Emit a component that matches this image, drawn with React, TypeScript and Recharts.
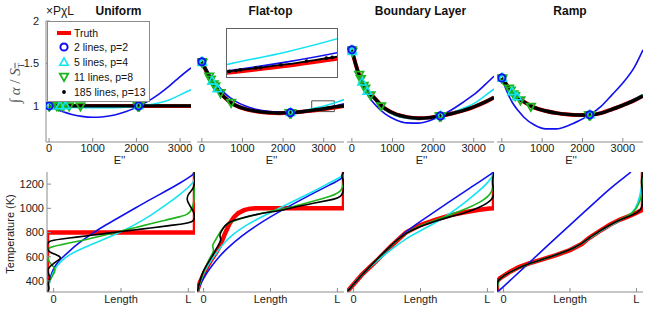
import React from "react";
import { ComposedChart, Line, Scatter, XAxis, YAxis, ReferenceArea } from "recharts";

const FONT = "'Liberation Sans', Arial, Helvetica, sans-serif";
const BOX = "#8c8c8c";
const RED = "#ff0000";
const BLUE = "#1010f0";
const CYAN = "#14e4f2";
const GREEN = "#1cb41c";
const BLACK = "#000000";

// ---------- top row: normalised line strength vs E''
// the first panel has a slightly narrower E'' range than the other three
const E_DOMAIN_A = [-70, 3250];
const E_DOMAIN_B = [-120, 3500];
const E_GRID_A = [0, 100, 250, 400, 500, 750, 1000, 1250, 1500, 1750, 2000, 2250, 2500, 2750, 3000, 3250];
const E_GRID_B = [0, 100, 260, 430, 540, 810, 1090, 1360, 1640, 1910, 2180, 2460, 2730, 3010, 3280, 3500];

const UNIFORM_TRUTH = [1, 1, 1, 1, 1, 1, 1, 1, 1, 1, 1, 1, 1, 1, 1, 1];
const UNIFORM_2 = [1.0, 0.975, 0.944, 0.918, 0.903, 0.877, 0.867, 0.873, 0.894, 0.931, 0.983, 1.05, 1.133, 1.232, 1.346, 1.448];
const UNIFORM_5 = [1.0, 0.995, 0.99, 0.986, 0.984, 0.98, 0.978, 0.978, 0.98, 0.985, 0.995, 1.01, 1.035, 1.07, 1.13, 1.19];
const UNIFORM_11 = [1.0, 1.0, 1.0, 0.999, 0.999, 0.998, 0.998, 0.998, 0.998, 0.999, 1.0, 1.0, 1.001, 1.002, 1.004, 1.006];
const UNIFORM_185 = [1, 1, 1, 1, 1, 1, 1, 1, 1, 1, 1, 1, 1, 1, 1, 1];

const FLAT_TRUTH = [1.52, 1.42, 1.28, 1.17, 1.11, 1.01, 0.96, 0.935, 0.92, 0.915, 0.92, 0.93, 0.945, 0.962, 0.982, 0.998];
const FLAT_2 = [1.52, 1.44, 1.32, 1.22, 1.16, 1.06, 0.995, 0.958, 0.937, 0.927, 0.921, 0.934, 0.951, 0.973, 0.999, 1.025];
const FLAT_5 = [1.53, 1.43, 1.29, 1.18, 1.12, 1.02, 0.965, 0.937, 0.921, 0.916, 0.921, 0.938, 0.969, 1.0, 1.037, 1.075];
const FLAT_11 = [1.52, 1.42, 1.28, 1.17, 1.11, 1.01, 0.962, 0.937, 0.922, 0.917, 0.921, 0.932, 0.948, 0.966, 0.987, 1.004];
const FLAT_185 = [1.52, 1.42, 1.28, 1.17, 1.11, 1.01, 0.961, 0.936, 0.921, 0.916, 0.921, 0.932, 0.949, 0.967, 0.988, 1.003];

const BL_TRUTH = [1.66, 1.48, 1.27, 1.15, 1.1, 0.97, 0.9, 0.868, 0.855, 0.862, 0.882, 0.91, 0.945, 0.99, 1.045, 1.1];
const BL_2 = [1.66, 1.47, 1.24, 1.1, 1.03, 0.91, 0.835, 0.8, 0.797, 0.825, 0.882, 0.955, 1.04, 1.135, 1.25, 1.35];
const BL_5 = [1.66, 1.48, 1.26, 1.14, 1.085, 0.955, 0.885, 0.855, 0.845, 0.855, 0.881, 0.917, 0.97, 1.03, 1.12, 1.2];
const BL_11 = [1.66, 1.48, 1.27, 1.15, 1.1, 0.968, 0.898, 0.866, 0.854, 0.861, 0.882, 0.911, 0.948, 0.994, 1.05, 1.105];
const BL_185 = [1.66, 1.48, 1.27, 1.15, 1.1, 0.97, 0.9, 0.868, 0.855, 0.862, 0.882, 0.91, 0.945, 0.99, 1.045, 1.1];

const RAMP_TRUTH = [1.33, 1.26, 1.16, 1.085, 1.05, 0.98, 0.94, 0.915, 0.9, 0.893, 0.895, 0.915, 0.96, 1.01, 1.065, 1.12];
const RAMP_2 = [1.33, 1.2, 1.04, 0.93, 0.87, 0.775, 0.73, 0.73, 0.767, 0.825, 0.895, 0.995, 1.13, 1.275, 1.45, 1.66];
const RAMP_5 = [1.33, 1.26, 1.16, 1.085, 1.05, 0.98, 0.94, 0.915, 0.9, 0.893, 0.895, 0.917, 0.963, 1.016, 1.075, 1.135];
const RAMP_11 = [1.33, 1.26, 1.16, 1.085, 1.05, 0.98, 0.94, 0.915, 0.9, 0.893, 0.895, 0.915, 0.96, 1.011, 1.067, 1.123];
const RAMP_185 = [1.33, 1.26, 1.16, 1.085, 1.05, 0.98, 0.94, 0.915, 0.9, 0.893, 0.895, 0.915, 0.96, 1.01, 1.065, 1.12];

// line positions (markers), first panel / other panels
const M2_E_A = [0, 2050];
const M5_E_A = [0, 10, 250, 380, 2050];
const M11_E_A = [0, 10, 180, 220, 290, 330, 460, 720, 2030, 2050, 2070];
const M2_E_B = [0, 2180];
const M5_E_B = [0, 10, 250, 380, 2180];
const M11_E_B = [0, 10, 180, 220, 290, 330, 460, 720, 2160, 2180, 2200];

const UNIFORM_M2 = [1, 1];
const UNIFORM_M5 = [1, 1, 1, 1, 1];
const UNIFORM_M11 = [1, 1, 1, 1, 1, 1, 1, 1, 1, 1, 1];
const FLAT_M2 = [1.52, 0.92];
const FLAT_M5 = [1.52, 1.51, 1.29, 1.2, 0.92];
const FLAT_M11 = [1.52, 1.51, 1.35, 1.315, 1.26, 1.235, 1.155, 1.04, 0.92, 0.92, 0.92];
const BL_M2 = [1.66, 0.882];
const BL_M5 = [1.66, 1.64, 1.28, 1.17, 0.882];
const BL_M11 = [1.66, 1.64, 1.37, 1.32, 1.24, 1.21, 1.13, 1.0, 0.88, 0.882, 0.884];
const RAMP_M2 = [1.33, 0.895];
const RAMP_M5 = [1.33, 1.323, 1.166, 1.105, 0.895];
const RAMP_M11 = [1.33, 1.323, 1.21, 1.185, 1.14, 1.12, 1.07, 0.995, 0.895, 0.895, 0.895];

// zoom inset on the flat-top panel
const INSET_E = [2705, 3262];
const INSET_V = [0.933, 1.06];
const INSET_DOT_E = [2717, 2750, 2772, 2850, 2875, 2978, 3108, 3208, 3238];
const INSET_DOT_V = [0.948, 0.95, 0.952, 0.957, 0.958, 0.965, 0.975, 0.983, 0.985];

const E_TICKS = [0, 1000, 2000, 3000];
const RATIO_TICKS = [1, 1.5, 2];

// ---------- bottom row: temperature profiles [length, K]
const UNI_T_TRUTH = [[0, 300], [0, 800], [1, 800], [1, 1300]];
const UNI_T_2 = [[0, 310], [0.005, 340], [0.015, 400], [0.03, 460], [0.05, 515], [0.075, 560], [0.1, 590], [0.15, 645], [0.2, 700], [0.3, 790], [0.4, 865], [0.5, 935], [0.6, 1005], [0.7, 1075], [0.8, 1140], [0.9, 1210], [0.99, 1278], [1, 1300]];
const UNI_T_5 = [[0, 310], [0.005, 330], [0.02, 400], [0.04, 470], [0.07, 530], [0.1, 570], [0.15, 615], [0.2, 648], [0.3, 702], [0.4, 752], [0.5, 805], [0.6, 868], [0.7, 940], [0.8, 1025], [0.9, 1115], [0.99, 1210], [1, 1250], [1, 1300]];
const UNI_T_11 = [[0, 310], [0.01, 390], [0.04, 450], [0.06, 490], [0.04, 525], [0.01, 560], [0, 620], [0, 678], [0.1, 700], [0.2, 725], [0.3, 752], [0.4, 782], [0.5, 812], [0.6, 842], [0.7, 872], [0.8, 902], [0.9, 932], [1, 960], [1, 1300]];
const UNI_T_185 = [[0, 305], [0.02, 340], [0, 380], [0.025, 420], [0.01, 460], [0, 500], [0.04, 540], [0.08, 575], [0.1, 595], [0.06, 620], [0.01, 640], [0, 680], [0, 732], [0.1, 747], [0.2, 762], [0.3, 777], [0.4, 793], [0.5, 808], [0.6, 823], [0.7, 838], [0.8, 853], [0.9, 869], [1, 884], [1, 960], [0.96, 1030], [0.94, 1080], [0.96, 1130], [1, 1170], [1, 1300]];

const FLAT_T_TRUTH = [[0, 310], [0.02, 390], [0.05, 470], [0.08, 540], [0.1, 580], [0.13, 635], [0.16, 700], [0.19, 790], [0.22, 870], [0.25, 925], [0.28, 960], [0.32, 985], [0.36, 997], [0.4, 1000], [1, 1000], [1, 1300]];
const FLAT_T_2 = [[0, 310], [0.03, 390], [0.06, 455], [0.1, 525], [0.15, 600], [0.2, 665], [0.3, 770], [0.4, 855], [0.5, 930], [0.6, 1000], [0.7, 1066], [0.8, 1130], [0.9, 1192], [1, 1252], [1, 1300]];
const FLAT_T_5 = [[0, 310], [0.03, 420], [0.06, 500], [0.1, 580], [0.15, 660], [0.18, 712], [0.25, 790], [0.3, 835], [0.4, 905], [0.5, 965], [0.56, 1000], [0.7, 1085], [0.8, 1145], [0.9, 1210], [1, 1272], [1, 1300]];
const FLAT_T_11 = [[0, 310], [0.03, 420], [0.06, 520], [0.09, 600], [0.12, 650], [0.1, 690], [0.12, 725], [0.14, 770], [0.17, 830], [0.202, 876], [0.3, 915], [0.383, 945], [0.5, 975], [0.61, 1000], [0.7, 1030], [0.8, 1062], [0.9, 1098], [1, 1137], [1, 1300]];
const FLAT_T_185 = [[0, 305], [0.02, 400], [0.043, 491], [0.088, 573], [0.12, 640], [0.145, 697], [0.168, 740], [0.15, 775], [0.168, 815], [0.19, 860], [0.224, 889], [0.293, 917], [0.406, 950], [0.5, 970], [0.587, 986], [0.7, 1020], [0.8, 1045], [0.9, 1068], [1, 1090], [1, 1235], [0.98, 1268], [0.995, 1292], [1, 1300]];

const BL_T_TRUTH = [[0, 310], [0.1, 450], [0.2, 565], [0.3, 688], [0.4, 800], [0.5, 862], [0.6, 905], [0.7, 942], [0.8, 968], [0.9, 988], [0.97, 998], [1, 1000], [1, 1300]];
const BL_T_2 = [[0, 310], [0.1, 445], [0.2, 570], [0.3, 690], [0.4, 810], [0.5, 893], [0.6, 975], [0.7, 1057], [0.8, 1138], [0.9, 1219], [1, 1300]];
const BL_T_5 = [[0, 310], [0.05, 385], [0.1, 455], [0.2, 560], [0.3, 660], [0.4, 750], [0.5, 815], [0.6, 878], [0.7, 955], [0.8, 1045], [0.9, 1145], [0.97, 1225], [1, 1290], [1, 1300]];
const BL_T_11 = [[0, 310], [0.1, 450], [0.2, 572], [0.3, 692], [0.4, 800], [0.5, 858], [0.6, 902], [0.7, 945], [0.8, 990], [0.9, 1045], [1, 1123], [1, 1300]];
const BL_T_185 = [[0, 310], [0.1, 452], [0.2, 575], [0.3, 698], [0.4, 800], [0.5, 852], [0.6, 895], [0.7, 930], [0.8, 962], [0.9, 1005], [1, 1074], [1, 1150], [0.985, 1220], [1, 1290], [1, 1300]];

const RAMP_T_TRUTH = [[0, 300], [0, 395], [0.02, 422], [0.09, 477], [0.15, 515], [0.22, 546], [0.3, 575], [0.4, 612], [0.5, 655], [0.58, 705], [0.63, 755], [0.7, 810], [0.77, 862], [0.84, 905], [0.9, 934], [0.96, 965], [1, 990], [1, 1300]];
const RAMP_T_2 = [[0, 305], [0.05, 360], [0.1, 415], [0.2, 528], [0.3, 640], [0.4, 752], [0.5, 862], [0.6, 972], [0.7, 1083], [0.8, 1190], [0.9, 1282], [0.917, 1300]];
const RAMP_T_5 = [[0, 305], [0.005, 400], [0.03, 430], [0.09, 478], [0.22, 545], [0.4, 612], [0.5, 658], [0.58, 705], [0.63, 750], [0.7, 805], [0.77, 855], [0.84, 898], [0.9, 935], [0.95, 990], [0.98, 1100], [0.995, 1220], [1, 1300]];
const RAMP_T_11 = [[0, 305], [0.005, 400], [0.03, 430], [0.09, 477], [0.22, 546], [0.4, 612], [0.5, 657], [0.58, 707], [0.63, 755], [0.7, 810], [0.77, 860], [0.84, 905], [0.9, 940], [0.95, 980], [1, 1110], [1, 1300]];
const RAMP_T_185 = [[0, 305], [0, 395], [0.02, 422], [0.09, 477], [0.22, 546], [0.4, 613], [0.5, 656], [0.58, 706], [0.63, 756], [0.7, 810], [0.77, 862], [0.84, 905], [0.9, 932], [0.96, 962], [1, 1000], [1, 1140], [0.985, 1220], [1, 1300]];

const LEN_TICKS = [0.045, 0.5, 0.955];
const LEN_LABELS = ["0", "Length", "L"];
const TEMP_TICKS = [400, 600, 800, 1000, 1200];

const TITLES = ["Uniform", "Flat-top", "Boundary Layer", "Ramp"];
const LEGEND_LABELS = ["Truth", "2 lines, p=2", "5 lines, p=4", "11 lines, p=8", "185 lines, p=13"];

type Pt = { x: number; y: number };
const pts = (xs: number[], ys: number[]): Pt[] => xs.map((x, i) => ({ x, y: ys[i] }));
const pairs = (a: number[][]): Pt[] => a.map(([x, y]) => ({ x, y }));

type Curve = { data: Pt[]; color: string; width: number; kind: any };
type MarkSet = { data: Pt[]; shape: string; color: string };

function Marker({ cx, cy, shape, color }: any) {
  if (cx == null || cy == null) return null;
  if (shape === "circle")
    return <circle cx={cx} cy={cy} r={3.6} fill="none" stroke={color} strokeWidth={2} />;
  if (shape === "up")
    return (
      <polygon
        points={`${cx},${cy - 4.6} ${cx - 4.2},${cy + 2.8} ${cx + 4.2},${cy + 2.8}`}
        fill="none"
        stroke={color}
        strokeWidth={1.6}
      />
    );
  if (shape === "down")
    return (
      <polygon
        points={`${cx},${cy + 4.6} ${cx - 4.2},${cy - 2.8} ${cx + 4.2},${cy - 2.8}`}
        fill="none"
        stroke={color}
        strokeWidth={1.8}
      />
    );
  return <circle cx={cx} cy={cy} r={1.9} fill={color} />;
}

interface PanelProps {
  left: number;
  top: number;
  w: number;
  h: number;
  yLabels: boolean;
  yMargin: number;
  xMargin: number;
  xDomain: number[];
  xTicks: number[];
  xFormat?: (v: number) => string;
  yDomain: number[];
  yTicks: number[];
  curves: Curve[];
  marks?: MarkSet[];
  children?: React.ReactNode;
}

// extra room around the plot so edge tick labels are not clipped
const PAD_TOP = 8;
const PAD_RIGHT = 14;

function Panel({ left, top, w, h, yLabels, yMargin, xMargin, xDomain, xTicks, xFormat, yDomain, yTicks, curves, marks = [], children }: PanelProps) {
  const yW = yLabels ? 46 : 0;
  const xH = 20;
  const tickStyle = { fontSize: 11, fill: "#1a1a1a", fontFamily: FONT };
  return (
    <div style={{ position: "absolute", left: left - yW, top: top - PAD_TOP }}>
      <ComposedChart
        width={yW + w + PAD_RIGHT}
        height={h + PAD_TOP + xH}
        margin={{ top: PAD_TOP, right: PAD_RIGHT, bottom: 0, left: 0 }}
      >
        <XAxis
          dataKey="x"
          type="number"
          domain={xDomain}
          ticks={xTicks}
          interval={0}
          allowDataOverflow
          height={xH}
          tickSize={-4}
          tickMargin={xMargin}
          tickFormatter={xFormat}
          stroke={BOX}
          tick={tickStyle}
        />
        <XAxis xAxisId="top" orientation="top" type="number" domain={xDomain} ticks={xTicks} interval={0} allowDataOverflow height={0} tickSize={-4} tick={false} stroke={BOX} />
        <YAxis
          type="number"
          domain={yDomain}
          ticks={yTicks}
          interval={0}
          allowDataOverflow
          width={yW}
          tickSize={-4}
          tickMargin={yMargin}
          stroke={BOX}
          tick={yLabels ? tickStyle : false}
        />
        <YAxis yAxisId="right" orientation="right" type="number" domain={yDomain} ticks={yTicks} interval={0} allowDataOverflow width={0} tickSize={-4} tick={false} stroke={BOX} />
        {children}
        {curves.map((c, i) => (
          <Line
            key={`c${i}`}
            data={c.data}
            dataKey="y"
            type={c.kind}
            stroke={c.color}
            strokeWidth={c.width}
            dot={false}
            activeDot={false}
            isAnimationActive={false}
          />
        ))}
        {marks.map((m, i) => (
          <Scatter
            key={`m${i}`}
            data={m.data}
            dataKey="y"
            isAnimationActive={false}
            shape={(p: any) => <Marker cx={p.cx} cy={p.cy} shape={m.shape} color={m.color} />}
          />
        ))}
      </ComposedChart>
    </div>
  );
}

const topCurves = (grid: number[], truth: number[], c2: number[], c5: number[], c11: number[], c185: number[]): Curve[] => [
  { data: pts(grid, truth), color: RED, width: 4, kind: "monotone" },
  { data: pts(grid, c2), color: BLUE, width: 1.6, kind: "monotone" },
  { data: pts(grid, c5), color: CYAN, width: 1.6, kind: "monotone" },
  { data: pts(grid, c11), color: GREEN, width: 1.6, kind: "monotone" },
  { data: pts(grid, c185), color: BLACK, width: 3.4, kind: "monotone" },
];

const topMarks = (e2: number[], m2: number[], e5: number[], m5: number[], e11: number[], m11: number[]): MarkSet[] => [
  { data: pts(e11, m11), shape: "down", color: GREEN },
  { data: pts(e5, m5), shape: "up", color: CYAN },
  { data: pts(e2, m2), shape: "circle", color: BLUE },
];

const bottomCurves = (truth: number[][], c2: number[][], c5: number[][], c11: number[][], c185: number[][]): Curve[] => [
  { data: pairs(truth), color: RED, width: 4.5, kind: "linear" },
  { data: pairs(c2), color: BLUE, width: 1.6, kind: "basis" },
  { data: pairs(c5), color: CYAN, width: 1.6, kind: "basis" },
  { data: pairs(c11), color: GREEN, width: 1.6, kind: "basis" },
  { data: pairs(c185), color: BLACK, width: 1.6, kind: "basis" },
];

const TOP_PANELS = [
  {
    left: 46, w: 145, domain: E_DOMAIN_A,
    curves: topCurves(E_GRID_A, UNIFORM_TRUTH, UNIFORM_2, UNIFORM_5, UNIFORM_11, UNIFORM_185),
    marks: topMarks(M2_E_A, UNIFORM_M2, M5_E_A, UNIFORM_M5, M11_E_A, UNIFORM_M11),
  },
  {
    left: 197, w: 147, domain: E_DOMAIN_B,
    curves: topCurves(E_GRID_B, FLAT_TRUTH, FLAT_2, FLAT_5, FLAT_11, FLAT_185),
    marks: topMarks(M2_E_B, FLAT_M2, M5_E_B, FLAT_M5, M11_E_B, FLAT_M11),
  },
  {
    left: 347, w: 147, domain: E_DOMAIN_B,
    curves: topCurves(E_GRID_B, BL_TRUTH, BL_2, BL_5, BL_11, BL_185),
    marks: topMarks(M2_E_B, BL_M2, M5_E_B, BL_M5, M11_E_B, BL_M11),
  },
  {
    left: 497, w: 146, domain: E_DOMAIN_B,
    curves: topCurves(E_GRID_B, RAMP_TRUTH, RAMP_2, RAMP_5, RAMP_11, RAMP_185),
    marks: topMarks(M2_E_B, RAMP_M2, M5_E_B, RAMP_M5, M11_E_B, RAMP_M11),
  },
];

const BOTTOM_PANELS = [
  { left: 47, w: 148, curves: bottomCurves(UNI_T_TRUTH, UNI_T_2, UNI_T_5, UNI_T_11, UNI_T_185) },
  { left: 197, w: 147, curves: bottomCurves(FLAT_T_TRUTH, FLAT_T_2, FLAT_T_5, FLAT_T_11, FLAT_T_185) },
  { left: 347, w: 147, curves: bottomCurves(BL_T_TRUTH, BL_T_2, BL_T_5, BL_T_11, BL_T_185) },
  { left: 497, w: 146, curves: bottomCurves(RAMP_T_TRUTH, RAMP_T_2, RAMP_T_5, RAMP_T_11, RAMP_T_185) },
];

const insetSlice = (ys: number[]) => pts(E_GRID_B.slice(11), ys.slice(11));

function Inset() {
  return (
    <div
      style={{
        position: "absolute",
        left: 226,
        top: 28,
        width: 112,
        height: 50,
        border: "1px solid #606060",
        background: "#fff",
        boxSizing: "border-box",
      }}
    >
      <ComposedChart width={110} height={48} margin={{ top: 0, right: 0, bottom: 0, left: 0 }}>
        <XAxis dataKey="x" type="number" domain={INSET_E} hide allowDataOverflow />
        <YAxis type="number" domain={INSET_V} hide allowDataOverflow />
        <Line data={insetSlice(FLAT_TRUTH)} dataKey="y" type="monotone" stroke={RED} strokeWidth={3.5} dot={false} isAnimationActive={false} />
        <Line data={insetSlice(FLAT_2)} dataKey="y" type="monotone" stroke={BLUE} strokeWidth={1.6} dot={false} isAnimationActive={false} />
        <Line data={insetSlice(FLAT_5)} dataKey="y" type="monotone" stroke={CYAN} strokeWidth={1.6} dot={false} isAnimationActive={false} />
        <Line data={insetSlice(FLAT_185)} dataKey="y" type="monotone" stroke={BLACK} strokeWidth={1.8} dot={false} isAnimationActive={false} />
        <Scatter
          data={pts(INSET_DOT_E, INSET_DOT_V)}
          dataKey="y"
          isAnimationActive={false}
          shape={(p: any) => <Marker cx={p.cx} cy={p.cy} shape="dot" color={BLACK} />}
        />
      </ComposedChart>
    </div>
  );
}

function LegendIcon({ i }: { i: number }) {
  return (
    <svg width={18} height={12} style={{ display: "block" }}>
      {i === 0 && <line x1={1} y1={6} x2={15} y2={6} stroke={RED} strokeWidth={4} />}
      {i === 1 && <Marker cx={8} cy={6} shape="circle" color={BLUE} />}
      {i === 2 && <Marker cx={8} cy={6.5} shape="up" color={CYAN} />}
      {i === 3 && <Marker cx={8} cy={5.5} shape="down" color={GREEN} />}
      {i === 4 && <Marker cx={8} cy={6} shape="dot" color={BLACK} />}
    </svg>
  );
}

function Legend() {
  return (
    <div
      style={{
        position: "absolute",
        left: 47,
        top: 21,
        width: 103,
        height: 81,
        border: `1px solid ${BOX}`,
        background: "#fff",
        boxSizing: "border-box",
      }}
    >
      {LEGEND_LABELS.map((label, i) => (
        <div
          key={label}
          style={{
            position: "absolute",
            left: 8,
            top: 3.5 + i * 14.75,
            height: 14,
            display: "flex",
            alignItems: "center",
            fontSize: 10.5,
            color: "#111",
            whiteSpace: "nowrap",
          }}
        >
          <LegendIcon i={i} />
          <span>{label}</span>
        </div>
      ))}
    </div>
  );
}

const centerText = (key: string, cx: number, cy: number, text: React.ReactNode, style: React.CSSProperties = {}) => (
  <div
    key={key}
    style={{
      position: "absolute",
      left: cx,
      top: cy,
      transform: "translate(-50%, -50%)",
      whiteSpace: "nowrap",
      ...style,
    }}
  >
    {text}
  </div>
);

export default function App() {
  return (
    <div
      style={{
        position: "fixed",
        left: 0,
        top: 0,
        width: 650,
        height: 309,
        background: "#fff",
        overflow: "hidden",
        fontFamily: FONT,
      }}
    >
      {TOP_PANELS.map((p, i) =>
        centerText(`t${i}`, p.left + p.w / 2, 10.5, TITLES[i], { fontSize: 12, fontWeight: "bold", color: "#111" })
      )}
      {TOP_PANELS.map((p, i) => (
        <Panel
          key={`top${i}`}
          left={p.left}
          top={21}
          w={p.w}
          h={121}
          yLabels={i === 0}
          yMargin={11}
          xMargin={6}
          xDomain={p.domain}
          xTicks={E_TICKS}
          yDomain={[0.575, 2]}
          yTicks={RATIO_TICKS}
          curves={p.curves}
          marks={p.marks}
        >
          {i === 1 && (
            <ReferenceArea
              x1={INSET_E[0]}
              x2={INSET_E[1]}
              y1={INSET_V[0]}
              y2={INSET_V[1]}
              fill="#fff"
              fillOpacity={0}
              stroke="#505050"
              strokeWidth={1}
            />
          )}
        </Panel>
      ))}
      {TOP_PANELS.map((p, i) =>
        centerText(`e${i}`, p.left + p.w / 2 + 1, 159.5, "E''", { fontSize: 11, color: "#1a1a1a" })
      )}
      <Inset />
      <Legend />
      {BOTTOM_PANELS.map((p, i) => (
        <Panel
          key={`bot${i}`}
          left={p.left}
          top={172}
          w={p.w}
          h={120}
          yLabels={i === 0}
          yMargin={7}
          xMargin={7}
          xDomain={[0, 1]}
          xTicks={LEN_TICKS}
          xFormat={(v: number) => LEN_LABELS[LEN_TICKS.indexOf(v)] ?? ""}
          yDomain={[309, 1300]}
          yTicks={TEMP_TICKS}
          curves={p.curves}
        />
      ))}
      <div style={{ position: "absolute", left: 46, top: 4, fontSize: 12, color: "#1a1a1a", whiteSpace: "nowrap" }}>
        ×PχL
      </div>
      {centerText(
        "ylab",
        16,
        83,
        <span>
          ∫ <i>α</i> / <i>S</i>
          <sub style={{ fontSize: 9, textDecoration: "overline" }}>T</sub>
        </span>,
        { transform: "translate(-50%, -50%) rotate(-90deg)", fontFamily: "'Liberation Serif', 'DejaVu Serif', serif", fontSize: 15, color: "#555" }
      )}
      {centerText("tlab", 10, 234, "Temperature (K)", {
        transform: "translate(-50%, -50%) rotate(-90deg)",
        fontSize: 11,
        color: "#1a1a1a",
      })}
    </div>
  );
}
